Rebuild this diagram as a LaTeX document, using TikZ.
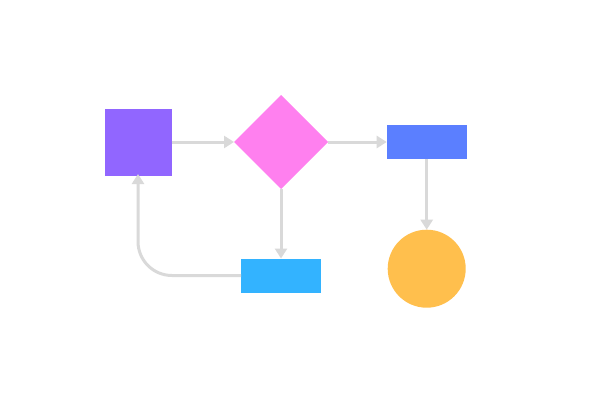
\documentclass[tikz,border=0pt]{standalone}
\usetikzlibrary{shapes.geometric,arrows.meta}
\definecolor{cpurple}{HTML}{9166FF}
\definecolor{cpink}{HTML}{FF80EF}
\definecolor{cblue}{HTML}{5B7FFF}
\definecolor{ccyan}{HTML}{33B3FF}
\definecolor{corange}{HTML}{FFBF4D}
\definecolor{cgray}{HTML}{D9D9D9}
\begin{document}
\begin{tikzpicture}[x=1pt,y=-1pt,
  shp/.style={inner sep=0pt,outer sep=0pt,draw=none},
  arr/.style={draw=cgray,line width=3pt,-{Triangle[length=10pt,width=12pt]}}]
\useasboundingbox[fill=white] (0,0) rectangle (601,404);
\node[shp,fill=cpurple,minimum width=67pt,minimum height=67pt] (sq) at (138,142) {};
\node[shp,diamond,aspect=1,fill=cpink,minimum width=94pt,minimum height=94pt] (dia) at (281,142) {};
\node[shp,fill=cblue,minimum width=80pt,minimum height=34pt] (blue) at (426.7,142) {};
\node[shp,fill=ccyan,minimum width=80pt,minimum height=34pt] (cyan) at (281,275.5) {};
\node[shp,circle,fill=corange,minimum size=78pt] (circ) at (426.7,268.7) {};
\draw[arr] (sq.east) -- (dia.west);
\draw[arr] (dia.east) -- (blue.west);
\draw[arr] (blue.south) -- (circ.north);
\draw[arr] (dia.south) -- (cyan.north);
\draw[arr,rounded corners=34pt] (cyan.west) -| ([yshift=1.5pt]sq.south);
\end{tikzpicture}
\end{document}
